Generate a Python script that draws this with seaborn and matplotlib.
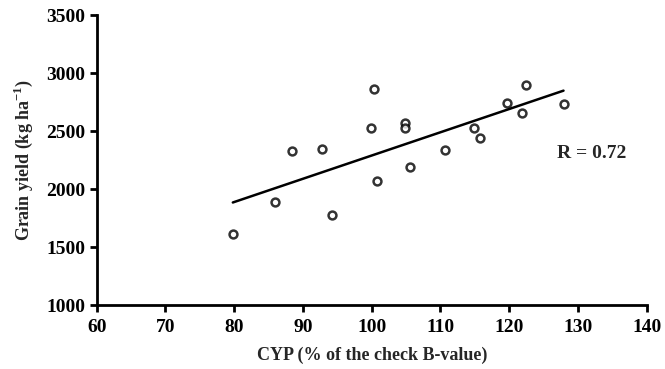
import matplotlib
matplotlib.use("Agg")
import matplotlib.pyplot as plt
import seaborn as sns
import pandas as pd

cyp = [79.8, 86.0, 88.4, 92.8, 94.2, 99.9, 100.3, 100.8, 104.9, 104.9,
       105.6, 110.6, 114.9, 115.75, 119.7, 121.8, 122.4, 127.9]
grain_yield = [1610, 1890, 2325, 2345, 1775, 2530, 2865, 2065, 2565, 2525,
               2190, 2335, 2525, 2440, 2745, 2655, 2895, 2735]
r_label = "R = 0.72"
x_ticks = [60, 70, 80, 90, 100, 110, 120, 130, 140]
y_ticks = [1000, 1500, 2000, 2500, 3000, 3500]

df = pd.DataFrame({"cyp": cyp, "yield": grain_yield})

sns.set_theme(style="ticks")
plt.rcParams['font.family'] = ['Liberation Serif', 'DejaVu Serif']
plt.rcParams['mathtext.fontset'] = 'custom'
plt.rcParams['mathtext.rm'] = 'Liberation Serif'
plt.rcParams['mathtext.bf'] = 'Liberation Serif:bold'

fig = plt.figure(figsize=(6.65, 3.69), dpi=100)
ax = fig.add_axes([0.1454, 0.1734, 0.8271, 0.7859])

sns.regplot(data=df, x="cyp", y="yield", ax=ax, ci=None, truncate=True,
            scatter_kws=dict(s=32, facecolor="white", edgecolor="black", linewidths=1.8, zorder=3),
            line_kws=dict(color="black", lw=1.8, zorder=2), color="black")

ax.set_xlim(60, 140)
ax.set_ylim(1000, 3500)
ax.set_xticks(x_ticks)
ax.set_yticks(y_ticks)
ax.set_xticklabels([str(v) for v in x_ticks], fontsize=14, fontweight="bold")
ax.set_yticklabels([str(v) for v in y_ticks], fontsize=14, fontweight="bold")
ax.tick_params(axis="both", direction="out", length=5, width=2, colors="black", pad=3)
ax.tick_params(axis="x", pad=5)
for s in ["top", "right"]:
    ax.spines[s].set_visible(False)
for s in ["left", "bottom"]:
    ax.spines[s].set_linewidth(2)
    ax.spines[s].set_color("black")

ax.set_xlabel("CYP (% of the check B-value)", fontsize=13, fontweight="bold", labelpad=8)
ax.set_ylabel(r"Grain yield (kg ha$^{\mathbf{-1}}$)", fontsize=13, fontweight="bold", labelpad=8)
ax.text(127.0, 2310, r_label, fontsize=14, fontweight="bold", va="center", ha="left")

fig.savefig("out.png", dpi=100, facecolor="white")
